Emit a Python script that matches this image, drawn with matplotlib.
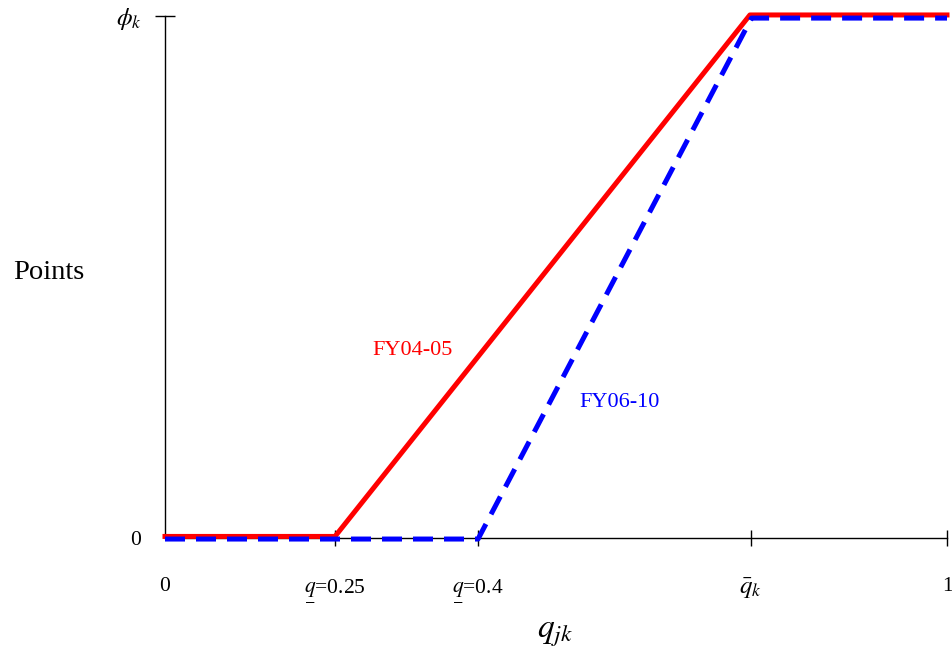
import matplotlib
matplotlib.use("Agg")
import matplotlib.pyplot as plt

plt.rcParams['font.family'] = ['Liberation Serif', 'DejaVu Serif']
plt.rcParams['mathtext.fontset'] = 'stix'

# data
red_x = [0.0, 0.2174, 0.748, 1.0]
red_y = [0.003, 0.003, 1.002, 1.002]
blue_x = [0.0, 0.4003, 0.750, 1.0]
blue_y = [-0.002, -0.002, 0.996, 0.996]
xticks = [0.0, 0.2174, 0.4003, 0.749, 1.0]
xticklabels = ['0', r'$\underset{-}{q}$=0.25', r'$\underset{-}{q}$=0.4', r'$\bar{q}_k$', '1']
yticks = [0.0, 1.0]
yticklabels = ['0', r'$\phi_k$']

fig = plt.figure(figsize=(9.53, 6.52), dpi=100)
ax = fig.add_axes([165/953, 1-538/652, 782/953, 522/652])

ax.plot(red_x, red_y, color='#ff0000', lw=3.6, clip_on=False, zorder=3)
ax.plot(blue_x, blue_y, color='#0000ff', lw=3.6, dashes=(4, 2.2), clip_on=False, zorder=4)

ax.set_xlim(0, 1)
ax.set_ylim(0, 1)
for s in ['top', 'right']:
    ax.spines[s].set_visible(False)
for s in ['left', 'bottom']:
    ax.spines[s].set_linewidth(1.0)

ax.set_xticks(xticks)
ax.set_xticklabels(xticklabels)
ax.set_yticks(yticks)
ax.set_yticklabels(yticklabels)
ax.tick_params(axis='x', direction='inout', length=12, width=1, pad=22, labelsize=15.5)
ax.tick_params(axis='y', direction='inout', length=14, width=1, pad=10, labelsize=15.5)

# hide tick marks at the origin
ax.xaxis.get_major_ticks()[0].tick1line.set_visible(False)
ax.yaxis.get_major_ticks()[0].tick1line.set_visible(False)
# math labels a bit larger
ax.get_xticklabels()[3].set_fontsize(18)
ax.get_yticklabels()[1].set_fontsize(18)

ax.set_ylabel('Points', rotation=0, fontsize=20.5, va='center', ha='center')
ax.yaxis.set_label_coords(-0.148, 0.508)
ax.set_xlabel(r'$q_{jk}$', fontsize=24, va='center')
ax.xaxis.set_label_coords(0.499, -0.183)

ax.text(0.316, 0.36, 'FY04-05', color='#ff0000', fontsize=16, ha='center', va='center')
ax.text(0.581, 0.259, 'FY06-10', color='#0000ff', fontsize=16, ha='center', va='center')

fig.savefig('out.png', dpi=100)
